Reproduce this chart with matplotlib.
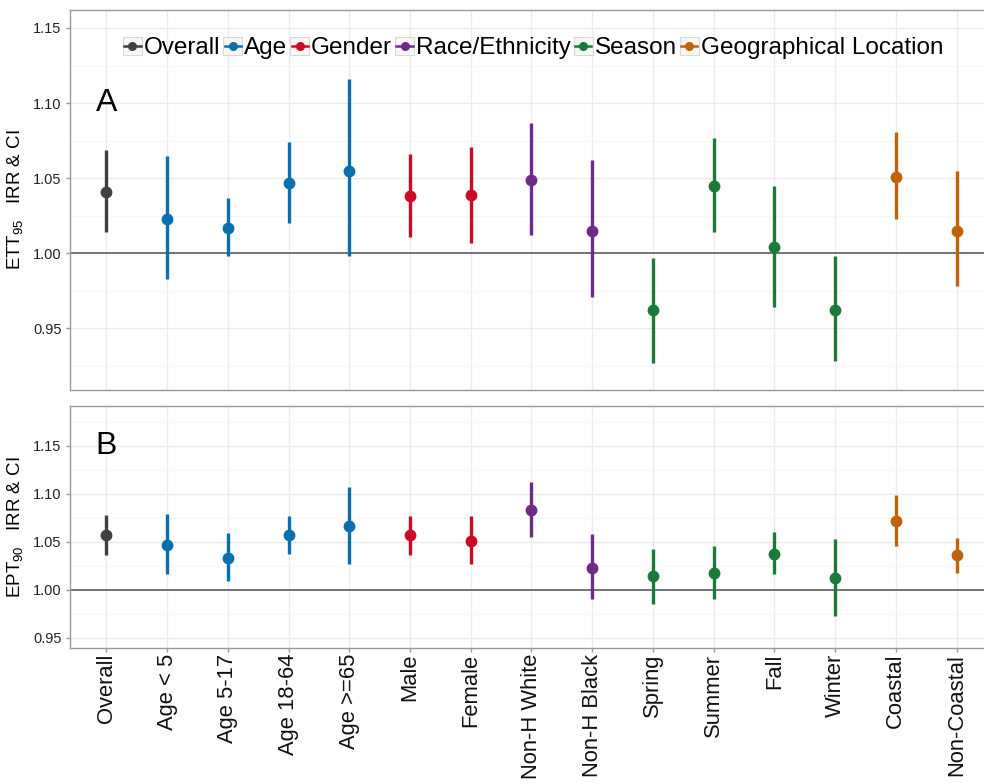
import matplotlib
matplotlib.use("Agg")
import matplotlib.pyplot as plt
from matplotlib.lines import Line2D
from matplotlib.patches import Rectangle
from matplotlib.legend_handler import HandlerBase
from matplotlib.ticker import MultipleLocator

plt.rcParams['font.family'] = ['Liberation Sans', 'DejaVu Sans']
plt.rcParams['mathtext.fontset'] = 'custom'
plt.rcParams['mathtext.rm'] = 'Liberation Sans'
plt.rcParams['mathtext.it'] = 'Liberation Sans:italic'

# categories and their group
categories = ["Overall", "Age < 5", "Age 5-17", "Age 18-64", "Age >=65", "Male", "Female",
              "Non-H White", "Non-H Black", "Spring", "Summer", "Fall", "Winter",
              "Coastal", "Non-Coastal"]
groups = ["Overall", "Age", "Age", "Age", "Age", "Gender", "Gender",
          "Race/Ethnicity", "Race/Ethnicity", "Season", "Season", "Season", "Season",
          "Geographical Location", "Geographical Location"]
group_names = ["Overall", "Age", "Gender", "Race/Ethnicity", "Season", "Geographical Location"]

# panel A: ETT95
irr_a = [1.041, 1.023, 1.017, 1.047, 1.055, 1.038, 1.039, 1.049, 1.015,
         0.962, 1.045, 1.004, 0.962, 1.051, 1.015]
lo_a = [1.014, 0.983, 0.998, 1.020, 0.998, 1.011, 1.007, 1.012, 0.971,
        0.927, 1.014, 0.964, 0.928, 1.023, 0.978]
hi_a = [1.069, 1.065, 1.037, 1.074, 1.116, 1.066, 1.071, 1.087, 1.062,
        0.997, 1.077, 1.045, 0.998, 1.081, 1.055]

# panel B: EPT90
irr_b = [1.057, 1.047, 1.033, 1.057, 1.066, 1.057, 1.051, 1.083, 1.023,
         1.014, 1.017, 1.037, 1.012, 1.071, 1.036]
lo_b = [1.036, 1.016, 1.009, 1.037, 1.027, 1.036, 1.027, 1.055, 0.990,
        0.985, 0.990, 1.016, 0.973, 1.045, 1.017]
hi_b = [1.078, 1.079, 1.059, 1.077, 1.107, 1.077, 1.077, 1.112, 1.058,
        1.042, 1.046, 1.060, 1.053, 1.099, 1.054]

colors = {"Overall": "#404040", "Age": "#0a6fae", "Gender": "#cc0a28",
          "Race/Ethnicity": "#6e2a8a", "Season": "#1b7a3a",
          "Geographical Location": "#c0620c"}

x = list(range(len(categories)))

fig = plt.figure(figsize=(9.84, 7.84), dpi=100)
ax_a = fig.add_axes([0.0711, 0.5026, 0.938, 0.4847])
ax_b = fig.add_axes([0.0711, 0.1738, 0.938, 0.3087])


def draw_panel(ax, est, lo, hi, ylim, letter, letter_y, ylabel):
    ax.set_xlim(-0.6, len(categories) - 0.4)
    ax.set_ylim(*ylim)
    ax.yaxis.set_major_locator(MultipleLocator(0.05))
    ax.yaxis.set_minor_locator(MultipleLocator(0.025))
    ax.set_xticks(x)
    ax.grid(True, which='major', color='#ebebeb', lw=1, zorder=0)
    ax.grid(True, which='minor', axis='y', color='#f6f6f6', lw=0.8, zorder=0)
    ax.tick_params(which='minor', length=0)
    ax.set_axisbelow(True)
    for s in ax.spines.values():
        s.set_color('#9a9a9a')
        s.set_linewidth(1.0)
    ax.axhline(1.0, color='#505050', lw=1.1, zorder=1)
    for i in x:
        c = colors[groups[i]]
        ax.vlines(i, lo[i], hi[i], color=c, lw=2.4, zorder=2)
        ax.plot(i, est[i], 'o', color=c, ms=7.5, zorder=3)
    ax.text(0, letter_y, letter, fontsize=23, ha='center', va='center')
    ax.set_yticks([0.95, 1.00, 1.05, 1.10, 1.15])
    ax.set_yticklabels(["0.95", "1.00", "1.05", "1.10", "1.15"])
    ax.tick_params(axis='y', labelsize=10.5, colors='#9a9a9a', labelcolor='#222222',
                   length=3, width=1, pad=3)
    ax.set_ylabel(ylabel, fontsize=13.5, labelpad=6)


draw_panel(ax_a, irr_a, lo_a, hi_a, (0.909, 1.162), "A", 1.10,
           r'$\mathrm{ETT}_{95}$   IRR & CI')
draw_panel(ax_b, irr_b, lo_b, hi_b, (0.9396, 1.1915), "B", 1.15,
           r'$\mathrm{EPT}_{90}$   IRR & CI')

ax_a.tick_params(axis='x', length=0, labelbottom=False)
ax_b.set_xticklabels(categories, rotation=90, fontsize=15.8)
ax_b.tick_params(axis='x', colors='#9a9a9a', labelcolor='#111111', length=3, width=1, pad=1.5)


class KeyHandler(HandlerBase):
    def create_artists(self, legend, orig_handle, xdescent, ydescent,
                       width, height, fontsize, trans):
        c = orig_handle.get_color()
        box = Rectangle((-xdescent, -ydescent), width, height, facecolor='#f7f7f7',
                        edgecolor='#d8d8d8', lw=0.8, transform=trans)
        ym = -ydescent + height / 2
        line = Line2D([-xdescent + 1, -xdescent + width - 1], [ym, ym], color=c,
                      lw=1.8, transform=trans)
        dot = Line2D([-xdescent + width / 2], [ym], marker='o', ms=5.5, color=c,
                     lw=0, transform=trans)
        return [box, line, dot]


handles = [Line2D([], [], color=colors[g]) for g in group_names]
fig.legend(handles, group_names, loc='center', bbox_to_anchor=(0.5417, 0.9388),
           ncol=6, frameon=False, fontsize=17.5, handlelength=0.78, handleheight=0.78,
           handletextpad=0.08, columnspacing=0.12, borderpad=0,
           handler_map={Line2D: KeyHandler()})

fig.savefig("out.png", dpi=100)
